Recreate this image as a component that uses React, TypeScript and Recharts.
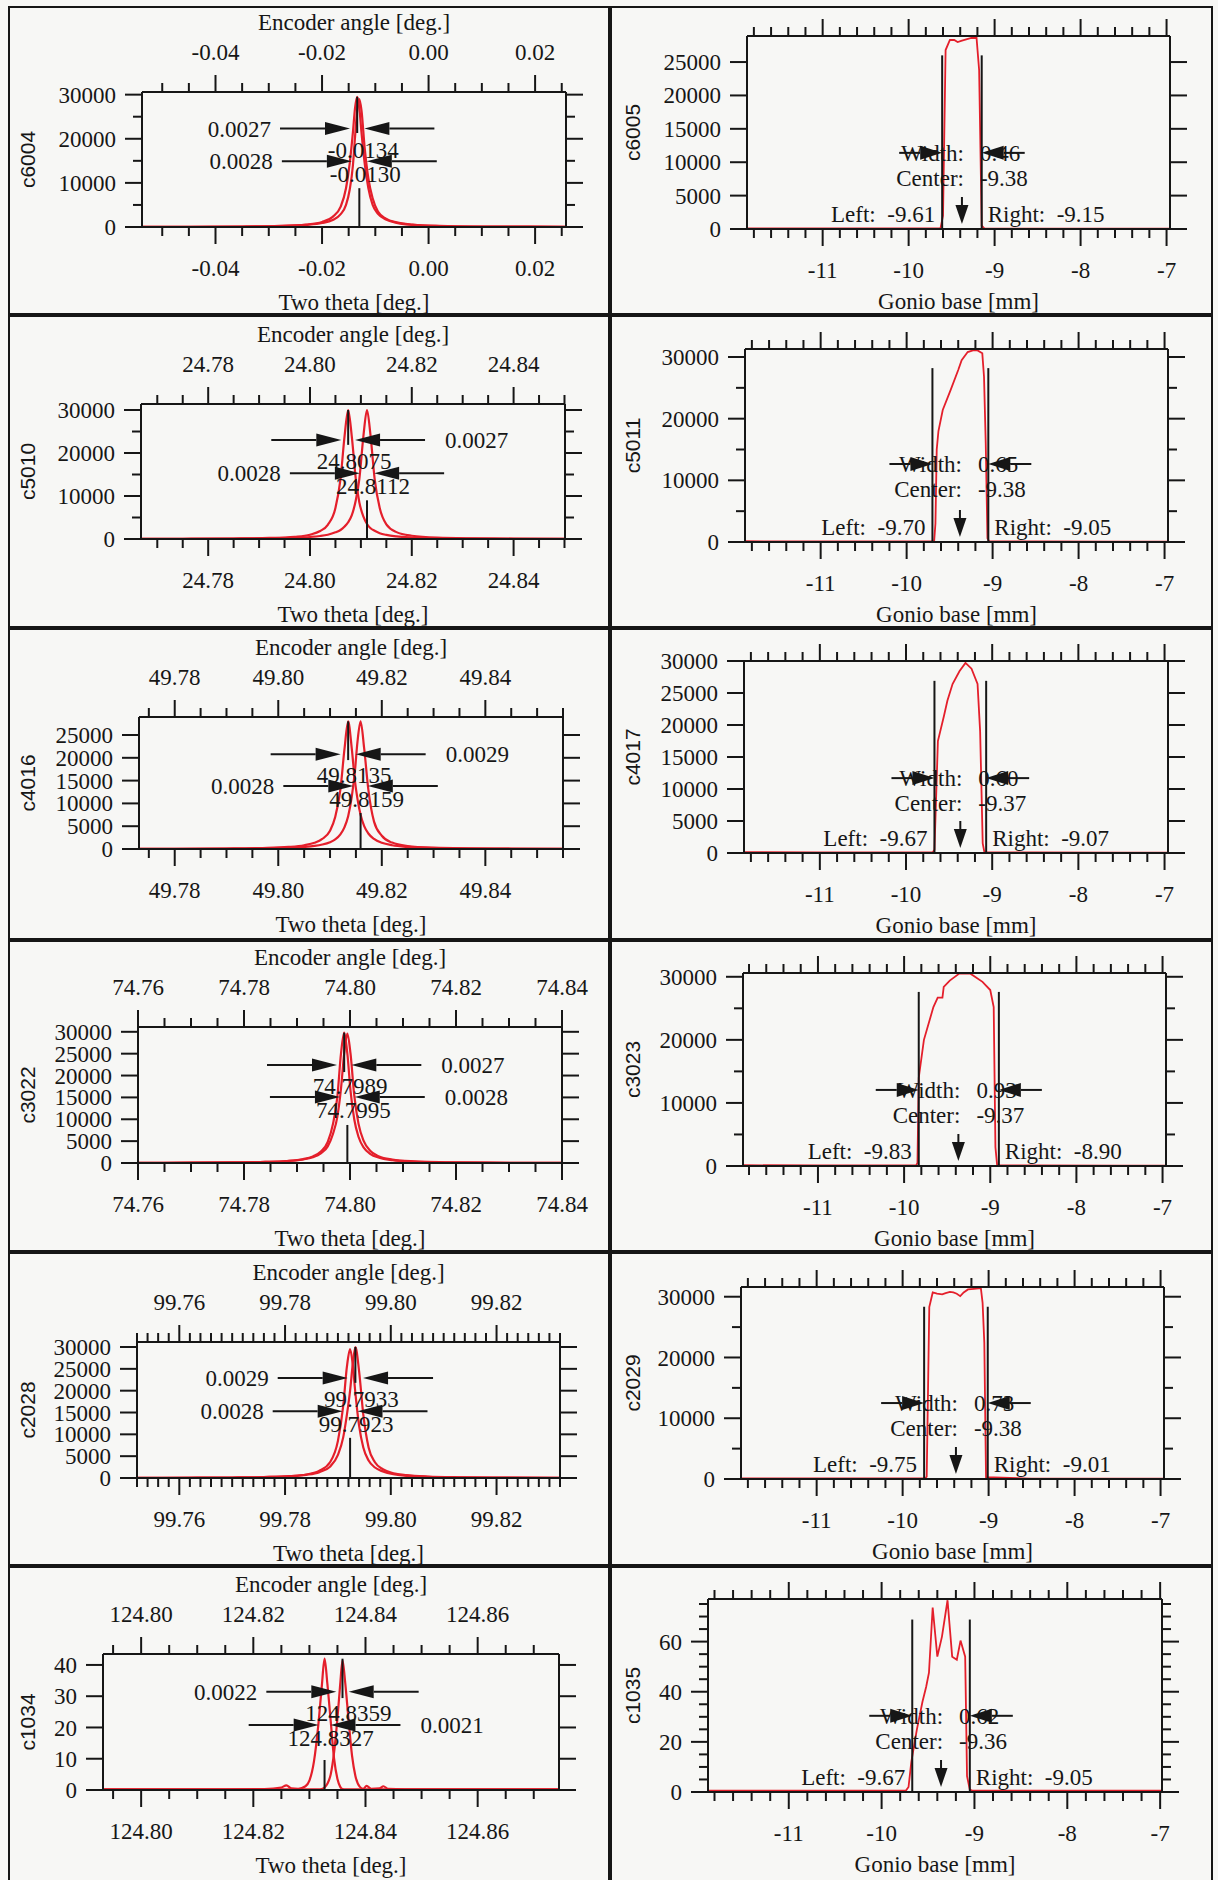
import React from 'react';
import { LineChart, Line, XAxis, YAxis, ReferenceLine, ReferenceDot } from 'recharts';

const SERIF = '"Liberation Serif", "Times New Roman", serif';
const SANS = '"Liberation Sans", Arial, sans-serif';
const INK = '#161616';
const RED = '#e41f2b';
const PAPER = '#f7f7f5';
const AXIS_LINE = { stroke: INK, strokeWidth: 2 };

// ---- grid of the figure (rows of panels) ----
const ROW_TOP = [6, 315, 628, 940, 1252, 1566];
const ROW_H = [309, 313, 312, 312, 314, 316];
const COL_X = [8, 610];
const COL_W = [602, 603];

// ---- two-theta scans (left column), two peaks each ----
const c6004X = [-0.0538, -0.045, -0.035, -0.028, -0.023, -0.02, -0.018, -0.0165, -0.0155, -0.0148, -0.0142, -0.0138, -0.0134, -0.013, -0.0126, -0.012, -0.0113, -0.0105, -0.0095, -0.008, -0.006, -0.003, 0.002, 0.01, 0.0258];
const c6004A = [30, 50, 110, 250, 570, 1150, 2300, 4600, 8800, 14500, 21500, 27000, 29500, 27000, 21500, 14500, 8800, 5000, 3000, 1700, 950, 500, 230, 100, 50];
const c6004B = [30, 45, 100, 220, 480, 900, 1600, 2900, 5000, 8500, 14000, 20500, 26500, 29000, 26500, 18000, 11000, 6500, 3500, 1900, 1050, 550, 250, 110, 50];

const c5010X = [24.7668, 24.775, 24.785, 24.792, 24.797, 24.8, 24.802, 24.8035, 24.805, 24.806, 24.8068, 24.8075, 24.8082, 24.809, 24.8097, 24.8105, 24.8112, 24.8119, 24.8127, 24.8137, 24.815, 24.817, 24.82, 24.825, 24.832, 24.84, 24.85];
const c5010A = [40, 60, 120, 240, 520, 1000, 1850, 3300, 7200, 14000, 24000, 30000, 24000, 14000, 8500, 5200, 3500, 2500, 1900, 1350, 950, 600, 350, 190, 100, 60, 35];
const c5010B = [35, 50, 90, 180, 300, 470, 700, 1000, 1550, 2100, 2900, 3900, 5500, 9000, 14000, 24000, 30000, 24000, 14000, 7200, 3400, 1600, 750, 300, 140, 70, 40];

const c4016X = [49.7731, 49.78, 49.79, 49.797, 49.802, 49.805, 49.807, 49.8085, 49.81, 49.811, 49.812, 49.8128, 49.8135, 49.8142, 49.8148, 49.8153, 49.8159, 49.8166, 49.8174, 49.8185, 49.82, 49.822, 49.825, 49.83, 49.837, 49.845, 49.8549];
const c4016A = [40, 55, 110, 220, 450, 820, 1350, 2200, 4000, 7000, 13000, 22000, 28000, 22000, 15000, 11000, 7500, 5000, 3400, 2200, 1350, 820, 450, 220, 110, 60, 35];
const c4016B = [30, 45, 85, 160, 290, 460, 680, 980, 1500, 2100, 3200, 4800, 7200, 11500, 17000, 23500, 28000, 22000, 13000, 6000, 2900, 1400, 650, 280, 130, 65, 35];

const c3022X = [74.76, 74.77, 74.778, 74.784, 74.788, 74.791, 74.793, 74.7945, 74.7958, 74.7968, 74.7976, 74.7983, 74.7989, 74.7995, 74.8001, 74.8008, 74.8016, 74.8026, 74.8038, 74.8055, 74.808, 74.812, 74.818, 74.826, 74.84];
const c3022A = [40, 70, 130, 250, 460, 850, 1500, 2600, 4800, 9000, 15000, 25000, 29800, 25000, 16500, 10000, 6000, 3500, 2100, 1200, 650, 320, 150, 75, 35];
const c3022B = [40, 65, 125, 240, 430, 780, 1300, 2200, 3800, 6700, 10500, 17000, 25000, 29600, 25000, 15500, 9000, 5000, 2800, 1500, 780, 370, 170, 80, 35];

const c2028X = [99.7521, 99.762, 99.77, 99.776, 99.781, 99.784, 99.7865, 99.7885, 99.79, 99.791, 99.7917, 99.7923, 99.7928, 99.7933, 99.794, 99.7948, 99.7958, 99.797, 99.7985, 99.8005, 99.803, 99.807, 99.813, 99.821, 99.8319];
const c2028A = [40, 65, 115, 210, 410, 720, 1350, 2600, 5300, 9300, 14500, 20000, 26000, 30000, 24500, 14500, 7000, 3600, 2000, 1100, 650, 330, 160, 80, 40];
const c2028B = [35, 60, 115, 215, 440, 810, 1650, 3600, 8500, 16500, 25500, 29500, 26000, 19500, 12000, 7000, 4000, 2400, 1500, 850, 500, 270, 135, 70, 35];

const c1034X = [124.7932, 124.805, 124.815, 124.822, 124.825, 124.8259, 124.8268, 124.828, 124.8293, 124.83, 124.8308, 124.8316, 124.8322, 124.8327, 124.8332, 124.8338, 124.8344, 124.835, 124.8355, 124.8359, 124.8364, 124.837, 124.8376, 124.8382, 124.839, 124.8396, 124.8402, 124.841, 124.8425, 124.8432, 124.844, 124.85, 124.86, 124.8745];
const c1034A = [0.2, 0.2, 0.2, 0.2, 0.2, 0.2, 0.2, 0.2, 0.2, 0.2, 0.2, 0.2, 0.3, 0.8, 2, 5, 12, 23, 34, 41.5, 34, 22, 11, 4.5, 1, 0.4, 1.3, 0.4, 0.5, 1.2, 0.4, 0.2, 0.2, 0.2];
const c1034B = [0.2, 0.2, 0.2, 0.3, 0.8, 1.5, 0.5, 0.4, 1.2, 3, 9, 21, 33, 42, 34, 22, 10, 3.5, 1, 0.3, 0.2, 0.2, 0.2, 0.2, 0.2, 0.2, 0.2, 0.2, 0.2, 0.2, 0.2, 0.2, 0.2, 0.2];

// ---- gonio base scans (right column) ----
const c6005X = [-11.88, -11.0, -10.0, -9.63, -9.6, -9.57, -9.52, -9.47, -9.43, -9.38, -9.33, -9.27, -9.21, -9.18, -9.15, -9.12, -8.5, -7.5, -6.97];
const c6005Y = [100, 80, 80, 100, 2000, 26800, 28300, 28300, 28000, 28200, 28400, 28600, 28600, 23800, 500, 80, 60, 60, 60];

const c5011X = [-11.88, -11.0, -10.0, -9.68, -9.665, -9.65, -9.63, -9.58, -9.49, -9.4, -9.36, -9.29, -9.22, -9.18, -9.12, -9.1, -9.08, -9.06, -9.04, -8.5, -7.5, -6.97];
const c5011Y = [120, 100, 100, 100, 3000, 15000, 18000, 21400, 24600, 27900, 29500, 30800, 31100, 31100, 30600, 26800, 16000, 600, 100, 80, 70, 70];

const c4017X = [-11.88, -11.0, -10.0, -9.69, -9.67, -9.65, -9.63, -9.56, -9.52, -9.46, -9.38, -9.31, -9.24, -9.17, -9.14, -9.11, -9.09, -8.5, -7.5, -6.97];
const c4017Y = [120, 100, 100, 100, 500, 9000, 17500, 21400, 23800, 26400, 28400, 29700, 28800, 26400, 19000, 1500, 100, 80, 70, 70];

const c3023X = [-11.87, -11.0, -10.0, -9.86, -9.845, -9.83, -9.77, -9.66, -9.61, -9.555, -9.54, -9.47, -9.36, -9.23, -9.09, -9.0, -8.96, -8.94, -8.92, -8.5, -7.5, -6.97];
const c3023Y = [120, 100, 100, 100, 500, 14000, 20000, 25200, 26700, 26700, 28400, 29400, 30500, 30500, 29200, 27900, 25200, 3000, 100, 80, 70, 70];

const c2029X = [-11.88, -11.0, -10.0, -9.74, -9.72, -9.69, -9.65, -9.6, -9.54, -9.5, -9.45, -9.41, -9.37, -9.33, -9.29, -9.24, -9.17, -9.09, -9.07, -9.05, -9.03, -8.5, -7.5, -6.97];
const c2029Y = [100, 80, 80, 80, 400, 28300, 30700, 30500, 30400, 30600, 30800, 30700, 30500, 30100, 30700, 31200, 31300, 31400, 29000, 22400, 300, 70, 60, 60];

const c1035X = [-11.87, -11.0, -10.0, -9.74, -9.71, -9.68, -9.62, -9.56, -9.52, -9.49, -9.45, -9.4, -9.35, -9.29, -9.24, -9.19, -9.15, -9.1, -9.08, -9.05, -9.02, -8.5, -7.5, -6.98];
const c1035Y = [0.5, 0.5, 0.5, 0.5, 2, 12, 25, 36, 42, 47.6, 73.6, 54, 62, 76.5, 54, 52.8, 60.4, 54, 6.3, 1, 0.5, 0.5, 0.5, 0.5];

// ---- tick label values ----
const gonioXMajor = [-11, -10, -9, -8, -7];
const countsMajor10k = [0, 10000, 20000, 30000];
const countsMajor5k = [0, 5000, 10000, 15000, 20000, 25000, 30000];

type Range = [number, number, number];
interface Peak {
  c: number; w: number; y: number; side: 'left' | 'right';
  width: string; centre: string; v: [number, number]; textDy: number;
}
interface TwoThetaPanel {
  id: string; row: number; xs: number[]; a: number[]; b: number[];
  xDomain: [number, number]; yDomain: [number, number];
  xTick: Range; xMajor: number[]; yTick: Range; yMajor: number[];
  m: [number, number, number, number]; peaks: [Peak, Peak];
}
interface GonioPanel {
  id: string; row: number; xs: number[]; ys: number[];
  xDomain: [number, number]; yDomain: [number, number];
  yTick: Range; yMajor: number[]; m: [number, number, number, number];
  left: number; right: number; center: number; width: string; rowY: number; vTop: number;
}

const twoThetaPanels: TwoThetaPanel[] = [
  {
    id: 'c6004', row: 0, xs: c6004X, a: c6004A, b: c6004B, xDomain: [-0.0538, 0.0258], yDomain: [0, 30600],
    xTick: [-0.05, 0.025, 0.005], xMajor: [-0.04, -0.02, 0, 0.02], yTick: [0, 30000, 5000], yMajor: countsMajor10k,
    m: [134, 44, 86, 88],
    peaks: [
      { c: -0.0134, w: 0.0027, y: 22300, side: 'left', width: '0.0027', centre: '-0.0134', v: [29500, 21300], textDy: 21 },
      { c: -0.013, w: 0.0028, y: 14900, side: 'left', width: '0.0028', centre: '-0.0130', v: [0, 8800], textDy: 13 },
    ],
  },
  {
    id: 'c5010', row: 1, xs: c5010X, a: c5010A, b: c5010B, xDomain: [24.7668, 24.8501], yDomain: [0, 31400],
    xTick: [24.77, 24.85, 0.005], xMajor: [24.78, 24.8, 24.82, 24.84], yTick: [0, 30000, 5000], yMajor: countsMajor10k,
    m: [133, 45, 89, 89],
    peaks: [
      { c: 24.8075, w: 0.0027, y: 23000, side: 'right', width: '0.0027', centre: '24.8075', v: [30000, 21900], textDy: 21 },
      { c: 24.8112, w: 0.0028, y: 15300, side: 'left', width: '0.0028', centre: '24.8112', v: [0, 9000], textDy: 13 },
    ],
  },
  {
    id: 'c4016', row: 2, xs: c4016X, a: c4016A, b: c4016B, xDomain: [49.7731, 49.855], yDomain: [0, 28950],
    xTick: [49.775, 49.855, 0.005], xMajor: [49.78, 49.8, 49.82, 49.84], yTick: [0, 25000, 5000], yMajor: countsMajor5k,
    m: [131, 47, 89, 91],
    peaks: [
      { c: 49.8135, w: 0.0029, y: 20800, side: 'right', width: '0.0029', centre: '49.8135', v: [28000, 19500], textDy: 21 },
      { c: 49.8159, w: 0.0028, y: 13800, side: 'left', width: '0.0028', centre: '49.8159', v: [0, 7900], textDy: 13 },
    ],
  },
  {
    id: 'c3022', row: 3, xs: c3022X, a: c3022A, b: c3022B, xDomain: [74.76, 74.84], yDomain: [0, 31100],
    xTick: [74.76, 74.84, 0.005], xMajor: [74.76, 74.78, 74.8, 74.82, 74.84], yTick: [0, 30000, 5000], yMajor: countsMajor5k,
    m: [130, 48, 87, 89],
    peaks: [
      { c: 74.7989, w: 0.0027, y: 22400, side: 'right', width: '0.0027', centre: '74.7989', v: [29800, 20800], textDy: 21 },
      { c: 74.7995, w: 0.0028, y: 15100, side: 'right', width: '0.0028', centre: '74.7995', v: [0, 8700], textDy: 13 },
    ],
  },
  {
    id: 'c2028', row: 4, xs: c2028X, a: c2028A, b: c2028B, xDomain: [99.752, 99.832], yDomain: [0, 31150],
    xTick: [99.752, 99.832, 0.002], xMajor: [99.76, 99.78, 99.8, 99.82], yTick: [0, 30000, 5000], yMajor: countsMajor5k,
    m: [129, 50, 90, 88],
    peaks: [
      { c: 99.7933, w: 0.0029, y: 22900, side: 'left', width: '0.0029', centre: '99.7933', v: [30000, 21800], textDy: 21 },
      { c: 99.7923, w: 0.0028, y: 15300, side: 'left', width: '0.0028', centre: '99.7923', v: [0, 9200], textDy: 13 },
    ],
  },
  {
    id: 'c1034', row: 5, xs: c1034X, a: c1034A, b: c1034B, xDomain: [124.7932, 124.8745], yDomain: [0, 43.5],
    xTick: [124.795, 124.87, 0.005], xMajor: [124.8, 124.82, 124.84, 124.86], yTick: [0, 40, 10], yMajor: [0, 10, 20, 30, 40],
    m: [95, 51, 88, 92],
    peaks: [
      { c: 124.8359, w: 0.0022, y: 31.4, side: 'left', width: '0.0022', centre: '124.8359', v: [42, 29.4], textDy: 21 },
      { c: 124.8327, w: 0.0021, y: 20.8, side: 'right', width: '0.0021', centre: '124.8327', v: [0, 9.6], textDy: 13 },
    ],
  },
];

const gonioPanels: GonioPanel[] = [
  { id: 'c6005', row: 0, xs: c6005X, ys: c6005Y, xDomain: [-11.88, -6.96], yDomain: [0, 28900], yTick: [0, 25000, 5000], yMajor: countsMajor5k, m: [137, 43, 30, 86], left: -9.61, right: -9.15, center: -9.38, width: '0.46', rowY: 11400, vTop: 26000 },
  { id: 'c5011', row: 1, xs: c5011X, ys: c5011Y, xDomain: [-11.88, -6.96], yDomain: [0, 31300], yTick: [0, 30000, 5000], yMajor: countsMajor10k, m: [135, 45, 34, 86], left: -9.7, right: -9.05, center: -9.38, width: '0.65', rowY: 12650, vTop: 28200 },
  { id: 'c4017', row: 2, xs: c4017X, ys: c4017Y, xDomain: [-11.88, -6.96], yDomain: [0, 30000], yTick: [0, 30000, 5000], yMajor: countsMajor5k, m: [134, 45, 33, 87], left: -9.67, right: -9.07, center: -9.37, width: '0.60', rowY: 11700, vTop: 26900 },
  { id: 'c3023', row: 3, xs: c3023X, ys: c3023Y, xDomain: [-11.87, -6.96], yDomain: [0, 30600], yTick: [0, 30000, 5000], yMajor: countsMajor10k, m: [133, 47, 33, 86], left: -9.83, right: -8.9, center: -9.37, width: '0.93', rowY: 12060, vTop: 27600 },
  { id: 'c2029', row: 4, xs: c2029X, ys: c2029Y, xDomain: [-11.88, -6.96], yDomain: [0, 31600], yTick: [0, 30000, 5000], yMajor: countsMajor10k, m: [131, 49, 35, 87], left: -9.75, right: -9.01, center: -9.38, width: '0.73', rowY: 12500, vTop: 28350 },
  { id: 'c1035', row: 5, xs: c1035X, ys: c1035Y, xDomain: [-11.87, -6.98], yDomain: [0, 77], yTick: [0, 75, 5], yMajor: [0, 20, 40, 60], m: [98, 51, 33, 90], left: -9.67, right: -9.05, center: -9.36, width: '0.62', rowY: 30.4, vTop: 68.8 },
];

const tickRange = (start: number, end: number, step: number): number[] => {
  const n = Math.round((end - start) / step);
  const out: number[] = [];
  for (let i = 0; i <= n; i++) out.push(Number((start + i * step).toFixed(6)));
  return out;
};

const TXT = { fontFamily: SERIF, fontSize: 23, fill: INK };

type Side = 'bottom' | 'left' | 'right';

// bottom ticks also draw the matching tick on the top edge (plot height above)
function makeTick(side: Side, majors: number[], step: number, fmt: ((v: number) => string) | null,
  plotH = 0, topLabels = false) {
  return (props: any) => {
    const { x, y, payload } = props;
    const v = Number(payload?.value);
    const major = majors.some((m) => Math.abs(m - v) < step / 10);
    const len = major ? 17 : 9;
    const label = fmt && major ? fmt(v) : null;
    if (side === 'bottom') {
      const yt = y - plotH;
      return (
        <g>
          <line x1={x} x2={x} y1={y} y2={y + len} stroke={INK} strokeWidth={2} />
          {label && <text x={x} y={y + 41} dy="0.35em" textAnchor="middle" {...TXT}>{label}</text>}
          <line x1={x} x2={x} y1={yt} y2={yt - len} stroke={INK} strokeWidth={2} />
          {label && topLabels && <text x={x} y={yt - 40} dy="0.35em" textAnchor="middle" {...TXT}>{label}</text>}
        </g>
      );
    }
    if (side === 'left') {
      return (
        <g>
          <line x1={x} x2={x - len} y1={y} y2={y} stroke={INK} strokeWidth={2} />
          {label && <text x={x - 26} y={y} dy="0.35em" textAnchor="end" {...TXT}>{label}</text>}
        </g>
      );
    }
    return (
      <g>
        <line x1={x} x2={x + len} y1={y} y2={y} stroke={INK} strokeWidth={2} />
      </g>
    );
  };
}

function AxisTitle(props: any) {
  const { viewBox, kind, text, yTitleX, gap } = props;
  if (!viewBox) return null;
  const { x, y, width, height } = viewBox;
  if (kind === 'bottom') {
    return <text x={x + width / 2} y={y + gap} dy="0.35em" textAnchor="middle" {...TXT}>{text}</text>;
  }
  if (kind === 'top') {
    return <text x={x + width / 2} y={y + height - 70} dy="0.35em" textAnchor="middle" {...TXT}>{text}</text>;
  }
  const cy = y + height / 2;
  return (
    <text x={yTitleX} y={cy} dy="0.35em" textAnchor="middle" transform={`rotate(-90 ${yTitleX} ${cy})`}
      fontFamily={SANS} fontSize={21} fill={INK}>{text}</text>
  );
}

// arrow whose tip sits on the reference point, tail away from it
function arrowShape(dir: 'right' | 'left', len: number, head: number, half: number, label?: string) {
  return (p: any) => {
    const { cx, cy } = p;
    const s = dir === 'right' ? -1 : 1;
    const tail = cx + s * len;
    const base = cx + s * head;
    return (
      <g>
        <line x1={tail} y1={cy} x2={base} y2={cy} stroke={INK} strokeWidth={2} />
        <polygon points={`${cx},${cy} ${base},${cy - half} ${base},${cy + half}`} fill={INK} />
        {label && (
          <text x={dir === 'right' ? tail - 9 : tail + 20} y={cy} dy="0.35em"
            textAnchor={dir === 'right' ? 'end' : 'start'} {...TXT}>{label}</text>
        )}
      </g>
    );
  };
}

function textShape(text: string, dx: number, dy: number, anchor: 'start' | 'middle' | 'end') {
  return (p: any) => (
    <text x={p.cx + dx} y={p.cy + dy} dy="0.35em" textAnchor={anchor} {...TXT}>{text}</text>
  );
}

function rowsShape(width: string, center: string) {
  return (p: any) => (
    <g>
      <text x={p.cx + 2} y={p.cy} dy="0.35em" textAnchor="end" {...TXT}>Width:</text>
      <text x={p.cx + 18} y={p.cy} dy="0.35em" textAnchor="start" {...TXT}>{width}</text>
      <text x={p.cx + 2} y={p.cy + 25} dy="0.35em" textAnchor="end" {...TXT}>Center:</text>
      <text x={p.cx + 18} y={p.cy + 25} dy="0.35em" textAnchor="start" {...TXT}>{center}</text>
    </g>
  );
}

const downArrow = (p: any) => {
  const { cx, cy } = p;
  return (
    <g>
      <line x1={cx} x2={cx} y1={cy - 32} y2={cy - 22} stroke={INK} strokeWidth={2} />
      <polygon points={`${cx},${cy - 5} ${cx - 6.5},${cy - 24} ${cx + 6.5},${cy - 24}`} fill={INK} />
    </g>
  );
};

function peakMarks(pk: Peak, key: string) {
  return [
    <ReferenceLine key={key + 'v'} segment={[{ x: pk.c, y: pk.v[0] }, { x: pk.c, y: pk.v[1] }]} stroke={INK} strokeWidth={2} />,
    <ReferenceDot key={key + 'l'} x={pk.c - pk.w / 2} y={pk.y} r={0}
      shape={arrowShape('right', 70, 25, 6.5, pk.side === 'left' ? pk.width : undefined)} />,
    <ReferenceDot key={key + 'r'} x={pk.c + pk.w / 2} y={pk.y} r={0}
      shape={arrowShape('left', 70, 25, 6.5, pk.side === 'right' ? pk.width : undefined)} />,
    <ReferenceDot key={key + 't'} x={pk.c} y={pk.y} r={0} shape={textShape(pk.centre, 6, pk.textDy, 'middle')} />,
  ];
}

function TwoThetaChart({ p }: { p: TwoThetaPanel }) {
  const H = ROW_H[p.row];
  const [ml, mr, mt, mb] = p.m;
  const plotH = H - mt - mb;
  const xt = tickRange(p.xTick[0], p.xTick[1], p.xTick[2]);
  const yt = tickRange(p.yTick[0], p.yTick[1], p.yTick[2]);
  const curveA = p.xs.map((x, i) => ({ x, y: p.a[i] }));
  const curveB = p.xs.map((x, i) => ({ x, y: p.b[i] }));
  const fx = (v: number) => v.toFixed(2);
  const fy = (v: number) => String(v);
  return (
    <LineChart width={COL_W[0]} height={H} margin={{ top: 0, right: 0, bottom: 0, left: 0 }}>
      <XAxis type="number" dataKey="x" domain={p.xDomain} allowDataOverflow ticks={xt} interval={0}
        height={mb} tickSize={0} tickMargin={0} tickLine={false} axisLine={AXIS_LINE}
        tick={makeTick('bottom', p.xMajor, p.xTick[2], fx, plotH, true)}
        label={<AxisTitle kind="bottom" text="Two theta [deg.]" gap={75} />} />
      <XAxis xAxisId="top" orientation="top" type="number" dataKey="x" domain={p.xDomain} allowDataOverflow
        height={mt} tick={false} tickLine={false} axisLine={AXIS_LINE}
        label={<AxisTitle kind="top" text="Encoder angle [deg.]" />} />
      <YAxis type="number" domain={p.yDomain} allowDataOverflow ticks={yt} interval={0}
        width={ml} tickSize={0} tickMargin={0} tickLine={false} axisLine={AXIS_LINE}
        tick={makeTick('left', p.yMajor, p.yTick[2], fy)}
        label={<AxisTitle kind="left" text={p.id} yTitleX={20} />} />
      <YAxis yAxisId="right" orientation="right" type="number" domain={p.yDomain} allowDataOverflow ticks={yt} interval={0}
        width={mr} tickSize={0} tickMargin={0} tickLine={false} axisLine={AXIS_LINE}
        tick={makeTick('right', p.yMajor, p.yTick[2], null)} />
      <Line data={curveB} dataKey="y" type="monotone" stroke={RED} strokeWidth={2.2} dot={false} isAnimationActive={false} />
      <Line data={curveA} dataKey="y" type="monotone" stroke={RED} strokeWidth={2.2} dot={false} isAnimationActive={false} />
      {peakMarks(p.peaks[0], 'a')}
      {peakMarks(p.peaks[1], 'b')}
    </LineChart>
  );
}

function GonioChart({ p }: { p: GonioPanel }) {
  const H = ROW_H[p.row];
  const [ml, mr, mt, mb] = p.m;
  const plotH = H - mt - mb;
  const xt = tickRange(-11.8, -7, 0.2);
  const yt = tickRange(p.yTick[0], p.yTick[1], p.yTick[2]);
  const curve = p.xs.map((x, i) => ({ x, y: p.ys[i] }));
  const fx = (v: number) => String(v);
  const fy = (v: number) => String(v);
  return (
    <LineChart width={COL_W[1]} height={H} margin={{ top: 0, right: 0, bottom: 0, left: 0 }}>
      <XAxis type="number" dataKey="x" domain={p.xDomain} allowDataOverflow ticks={xt} interval={0}
        height={mb} tickSize={0} tickMargin={0} tickLine={false} axisLine={AXIS_LINE}
        tick={makeTick('bottom', gonioXMajor, 0.2, fx, plotH, false)}
        label={<AxisTitle kind="bottom" text="Gonio base [mm]" gap={72} />} />
      <XAxis xAxisId="top" orientation="top" type="number" dataKey="x" domain={p.xDomain} allowDataOverflow
        height={mt} tick={false} tickLine={false} axisLine={AXIS_LINE} />
      <YAxis type="number" domain={p.yDomain} allowDataOverflow ticks={yt} interval={0}
        width={ml} tickSize={0} tickMargin={0} tickLine={false} axisLine={AXIS_LINE}
        tick={makeTick('left', p.yMajor, p.yTick[2], fy)}
        label={<AxisTitle kind="left" text={p.id} yTitleX={23} />} />
      <YAxis yAxisId="right" orientation="right" type="number" domain={p.yDomain} allowDataOverflow ticks={yt} interval={0}
        width={mr} tickSize={0} tickMargin={0} tickLine={false} axisLine={AXIS_LINE}
        tick={makeTick('right', p.yMajor, p.yTick[2], null)} />
      <Line data={curve} dataKey="y" type="linear" stroke={RED} strokeWidth={1.8} dot={false} isAnimationActive={false} />
      <ReferenceLine segment={[{ x: p.left, y: 0 }, { x: p.left, y: p.vTop }]} stroke={INK} strokeWidth={2} />
      <ReferenceLine segment={[{ x: p.right, y: 0 }, { x: p.right, y: p.vTop }]} stroke={INK} strokeWidth={2} />
      <ReferenceLine segment={[{ x: p.left, y: 0 }, { x: p.right, y: 0 }]} stroke={INK} strokeWidth={2} />
      <ReferenceDot x={p.center} y={p.rowY} r={0} shape={rowsShape(p.width, p.center.toFixed(2))} />
      <ReferenceDot x={p.left} y={p.rowY} r={0} shape={arrowShape('right', 43, 22, 7)} />
      <ReferenceDot x={p.right} y={p.rowY} r={0} shape={arrowShape('left', 43, 22, 7)} />
      <ReferenceDot x={p.center} y={0} r={0} shape={downArrow} />
      <ReferenceDot x={p.left} y={0} r={0} shape={textShape(`Left:\u00a0 ${p.left.toFixed(2)}`, -7, -15, 'end')} />
      <ReferenceDot x={p.right} y={0} r={0} shape={textShape(`Right:\u00a0 ${p.right.toFixed(2)}`, 6, -15, 'start')} />
    </LineChart>
  );
}

function Cell({ col, row, children }: { col: number; row: number; children: React.ReactNode }) {
  return (
    <div style={{ position: 'absolute', left: COL_X[col], top: ROW_TOP[row], width: COL_W[col], height: ROW_H[row] }}>
      {children}
      <div style={{ position: 'absolute', inset: 0, border: `2px solid ${INK}`, boxSizing: 'border-box', pointerEvents: 'none' }} />
    </div>
  );
}

export default function App() {
  return (
    <div style={{ position: 'absolute', left: 0, top: 0, width: 1218, height: 1880, background: PAPER, overflow: 'hidden' }}>
      {twoThetaPanels.map((p) => (
        <Cell key={p.id} col={0} row={p.row}><TwoThetaChart p={p} /></Cell>
      ))}
      {gonioPanels.map((p) => (
        <Cell key={p.id} col={1} row={p.row}><GonioChart p={p} /></Cell>
      ))}
    </div>
  );
}
